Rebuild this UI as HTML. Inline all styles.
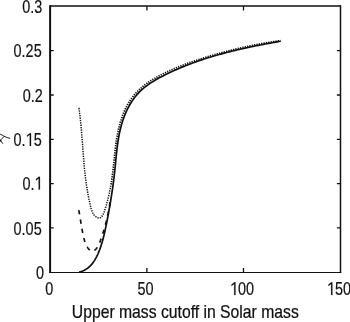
<!DOCTYPE html>
<html><head><meta charset="utf-8"><style>
html,body{margin:0;padding:0;background:#fff;width:350px;height:322px;overflow:hidden}
svg{display:block;filter:grayscale(1) blur(0.3px)}
text{font-family:"Liberation Sans",sans-serif;fill:#111;stroke:#111;stroke-width:0.2px}
</style></head><body>
<svg width="350" height="322" viewBox="0 0 350 322">
<g fill="none" stroke="#111" stroke-linecap="butt">
<path d="M50.1,6.0 H340.5" stroke-width="1.6"/>
<path d="M340.5,5.2 V273.1" stroke-width="1.5"/>
<path d="M49.1,272.5 H341.25" stroke-width="1.2"/>
<path d="M50.1,5.2 V273.1" stroke-width="2.0"/>
<path d="M146.9,272.5 v-4.4 M243.5,272.5 v-4.4 M146.9,6 v4.6 M243.5,6 v4.6" stroke-width="1.3"/>
<path d="M50.1,50.7 h3.6 M50.1,95 h3.6 M50.1,139.3 h3.6 M50.1,183.6 h3.6 M50.1,227.95 h3.6 M340.5,50.7 h-3.6 M340.5,95 h-3.6 M340.5,139.3 h-3.6 M340.5,183.6 h-3.6 M340.5,227.95 h-3.6" stroke-width="1.3"/>
<path d="M78.98,107.98 L79.02,108.25 L79.06,108.52 L79.09,108.79 L79.13,109.07 L79.17,109.34 L79.21,109.61 L79.24,109.88 L79.28,110.15 L79.31,110.43 L79.35,110.70 L79.39,110.97 L79.42,111.24 L79.46,111.51 L79.49,111.78 L79.53,112.06 L79.56,112.33 L79.60,112.60 L79.63,112.87 L79.66,113.14 L79.70,113.41 L79.73,113.68 L79.76,113.95 L79.80,114.23 L79.83,114.50 L79.86,114.77 L79.89,115.04 L79.92,115.31 L79.96,115.58 L79.99,115.85 L80.02,116.12 L80.05,116.39 L80.08,116.66 L80.11,116.93 L80.14,117.20 L80.17,117.47 L80.20,117.74 L80.23,118.01 L80.26,118.28 L80.29,118.55 L80.32,118.82 L80.35,119.09 L80.38,119.36 L80.41,119.63 L80.44,119.90 L80.46,120.17 L80.49,120.44 L80.52,120.71 L80.55,120.98 L80.58,121.25 L80.60,121.52 L80.63,121.79 L80.66,122.06 L80.68,122.33 L80.71,122.60 L80.74,122.87 L80.76,123.14 L80.79,123.41 L80.82,123.68 L80.84,123.95 L80.87,124.21 L80.89,124.48 L80.92,124.75 L80.95,125.02 L80.97,125.29 L81.00,125.56 L81.02,125.83 L81.05,126.10 L81.07,126.37 L81.09,126.63 L81.12,126.90 L81.14,127.17 L81.17,127.44 L81.19,127.71 L81.22,127.98 L81.24,128.24 L81.26,128.51 L81.29,128.78 L81.31,129.05 L81.33,129.32 L81.36,129.59 L81.38,129.85 L81.40,130.12 L81.42,130.39 L81.45,130.66 L81.47,130.93 L81.49,131.19 L81.51,131.46 L81.54,131.73 L81.56,132.00 L81.58,132.27 L81.60,132.53 L81.62,132.80 L81.65,133.07 L81.67,133.34 L81.69,133.60 L81.71,133.87 L81.73,134.14 L81.75,134.41 L81.78,134.67 L81.80,134.94 L81.82,135.21 L81.84,135.48 L81.86,135.74 L81.88,136.01 L81.90,136.28 L81.92,136.55 L81.94,136.81 L81.96,137.08 L81.98,137.35 L82.00,137.61 L82.03,137.88 L82.05,138.15 L82.07,138.42 L82.09,138.68 L82.11,138.95 L82.13,139.22 L82.15,139.48 L82.17,139.75 L82.19,140.02 L82.21,140.28 L82.23,140.55 L82.25,140.82 L82.27,141.09 L82.29,141.35 L82.31,141.62 L82.33,141.89 L82.35,142.15 L82.37,142.42 L82.38,142.69 L82.40,142.95 L82.42,143.22 L82.44,143.49 L82.46,143.75 L82.48,144.02 L82.50,144.29 L82.52,144.55 L82.54,144.82 L82.56,145.08 L82.58,145.35 L82.60,145.62 L82.62,145.88 L82.64,146.15 L82.66,146.42 L82.68,146.68 L82.70,146.95 L82.72,147.22 L82.74,147.48 L82.76,147.75 L82.78,148.01 L82.80,148.28 L82.82,148.55 L82.83,148.81 L82.85,149.08 L82.87,149.35 L82.89,149.61 L82.91,149.88 L82.93,150.14 L82.95,150.41 L82.97,150.68 L82.99,150.94 L83.01,151.21 L83.03,151.48 L83.05,151.74 L83.07,152.01 L83.09,152.27 L83.11,152.54 L83.13,152.81 L83.15,153.07 L83.17,153.34 L83.19,153.60 L83.21,153.87 L83.23,154.14 L83.25,154.40 L83.27,154.67 L83.30,154.93 L83.32,155.20 L83.34,155.47 L83.36,155.73 L83.38,156.00 L83.40,156.26 L83.42,156.53 L83.44,156.80 L83.46,157.06 L83.48,157.33 L83.50,157.59 L83.53,157.86 L83.55,158.13 L83.57,158.39 L83.59,158.66 L83.61,158.92 L83.63,159.19 L83.66,159.46 L83.68,159.72 L83.70,159.99 L83.72,160.25 L83.74,160.52 L83.77,160.79 L83.79,161.05 L83.81,161.32 L83.83,161.58 L83.86,161.85 L83.88,162.12 L83.90,162.38 L83.93,162.65 L83.95,162.91 L83.97,163.18 L84.00,163.45 L84.02,163.71 L84.04,163.98 L84.07,164.24 L84.09,164.51 L84.12,164.78 L84.14,165.04 L84.16,165.31 L84.19,165.57 L84.21,165.84 L84.24,166.11 L84.26,166.37 L84.29,166.64 L84.31,166.91 L84.34,167.17 L84.36,167.44 L84.39,167.70 L84.42,167.97 L84.44,168.24 L84.47,168.50 L84.49,168.77 L84.52,169.03 L84.55,169.30 L84.57,169.57 L84.60,169.83 L84.63,170.10 L84.66,170.37 L84.68,170.63 L84.71,170.90 L84.74,171.16 L84.77,171.43 L84.79,171.70 L84.82,171.96 L84.85,172.23 L84.88,172.50 L84.91,172.76 L84.94,173.03 L84.97,173.30 L85.00,173.56 L85.03,173.83 L85.06,174.10 L85.09,174.36 L85.12,174.63 L85.15,174.90 L85.18,175.16 L85.21,175.43 L85.24,175.70 L85.27,175.96 L85.30,176.23 L85.33,176.50 L85.37,176.76 L85.40,177.03 L85.43,177.30 L85.46,177.56 L85.50,177.83 L85.53,178.10 L85.56,178.36 L85.60,178.63 L85.63,178.90 L85.66,179.16 L85.70,179.43 L85.73,179.70 L85.77,179.97 L85.80,180.23 L85.84,180.50 L85.87,180.77 L85.91,181.03 L85.94,181.30 L85.98,181.57 L86.02,181.84 L86.05,182.10 L86.09,182.37 L86.13,182.64 L86.16,182.91 L86.20,183.17 L86.24,183.44 L86.28,183.71 L86.32,183.98 L86.35,184.24 L86.39,184.51 L86.43,184.78 L86.47,185.05 L86.51,185.31 L86.55,185.58 L86.59,185.85 L86.63,186.12 L86.67,186.39 L86.71,186.65 L86.76,186.92 L86.80,187.19 L86.84,187.46 L86.88,187.72 L86.92,187.99 L86.97,188.26 L87.01,188.53 L87.05,188.80 L87.10,189.07 L87.14,189.33 L87.19,189.60 L87.23,189.87 L87.28,190.14 L87.32,190.41 L87.37,190.68 L87.41,190.94 L87.46,191.21 L87.51,191.48 L87.55,191.75 L87.60,192.02 L87.65,192.29 L87.70,192.56 L87.74,192.83 L87.79,193.09 L87.84,193.36 L87.89,193.63 L87.94,193.90 L87.99,194.17 L88.04,194.44 L88.09,194.71 L88.14,194.98 L88.19,195.25 L88.25,195.52 L88.30,195.79 L88.35,196.06 L88.40,196.32 L88.46,196.59 L88.51,196.86 L88.56,197.13 L88.62,197.40 L88.67,197.67 L88.73,197.94 L88.78,198.21 L88.84,198.48 L88.89,198.75 L88.95,199.02 L89.01,199.29 L89.06,199.56 L89.12,199.83 L89.18,200.10 L89.24,200.37 L89.29,200.64 L89.35,200.91 L89.41,201.18 L89.47,201.45 L89.53,201.73 L89.59,202.00 L89.65,202.27 L89.71,202.54 L89.78,202.81 L89.84,203.08 L89.90,203.35 L89.96,203.62 L90.03,203.89 L90.09,204.16 L90.15,204.43 L90.22,204.70 L90.28,204.98 L90.35,205.25 L90.41,205.52 L90.48,205.79 L90.55,206.06 L90.61,206.33 L90.68,206.60 L90.75,206.88 L90.82,207.15 L90.89,207.42 L90.96,207.69 L91.03,207.96 L91.11,208.22 L91.18,208.49 L91.26,208.76 L91.34,209.02 L91.41,209.29 L91.50,209.55 L91.58,209.81 L91.66,210.07 L91.75,210.33 L91.84,210.58 L91.93,210.83 L92.03,211.09 L92.12,211.34 L92.22,211.58 L92.32,211.83 L92.43,212.07 L92.53,212.31 L92.64,212.55 L92.76,212.78 L92.87,213.01 L92.99,213.24 L93.12,213.46 L93.24,213.69 L93.37,213.90 L93.51,214.12 L93.65,214.33 L93.79,214.53 L93.94,214.74 L94.09,214.94 L94.24,215.13 L94.40,215.32 L94.56,215.51 L94.73,215.69 L94.90,215.87 L95.08,216.04 L95.26,216.21 L95.45,216.37 L95.64,216.53 L95.84,216.68 L96.04,216.83 L96.25,216.97 L96.46,217.11 L96.68,217.24 L96.91,217.36 L97.13,217.47 L97.36,217.58 L97.60,217.68 L97.83,217.76 L98.07,217.84 L98.30,217.90 L98.54,217.95 L98.77,217.98 L99.00,218.00 L99.23,218.01 L99.46,218.00 L99.69,217.97 L99.91,217.92 L100.12,217.85 L100.33,217.76 L100.54,217.65 L100.73,217.53 L100.93,217.39 L101.12,217.23 L101.30,217.06 L101.48,216.87 L101.66,216.68 L101.83,216.47 L101.99,216.25 L102.15,216.02 L102.31,215.78 L102.46,215.53 L102.61,215.28 L102.75,215.02 L102.89,214.75 L103.03,214.48 L103.16,214.21 L103.28,213.93 L103.41,213.66 L103.53,213.38 L103.64,213.11 L103.75,212.83 L103.86,212.56 L103.97,212.29 L104.07,212.02 L104.17,211.75 L104.27,211.48 L104.36,211.21 L104.45,210.94 L104.54,210.68 L104.63,210.41 L104.72,210.15 L104.81,209.88 L104.89,209.62 L104.98,209.36 L105.06,209.09 L105.15,208.83 L105.23,208.57 L105.31,208.31 L105.39,208.05 L105.47,207.79 L105.55,207.53 L105.63,207.27 L105.71,207.02 L105.79,206.76 L105.87,206.50 L105.94,206.25 L106.02,205.99 L106.10,205.73 L106.17,205.48 L106.25,205.22 L106.32,204.97 L106.39,204.71 L106.47,204.46 L106.54,204.20 L106.61,203.95 L106.68,203.69 L106.75,203.44 L106.82,203.18 L106.89,202.93 L106.96,202.68 L107.03,202.42 L107.10,202.17 L107.17,201.91 L107.24,201.66 L107.30,201.41 L107.37,201.15 L107.44,200.90 L107.50,200.65 L107.57,200.39 L107.63,200.14 L107.70,199.88 L107.76,199.63 L107.83,199.37 L107.89,199.12 L107.95,198.86 L108.02,198.61 L108.08,198.35 L108.14,198.09 L108.20,197.84 L108.27,197.58 L108.33,197.32 L108.39,197.07 L108.45,196.81 L108.51,196.55 L108.57,196.29 L108.63,196.03 L108.69,195.77 L108.75,195.52 L108.81,195.26 L108.87,195.00 L108.93,194.74 L108.99,194.48 L109.04,194.22 L109.10,193.95 L109.16,193.69 L109.22,193.43 L109.27,193.17 L109.33,192.91 L109.39,192.65 L109.44,192.38 L109.50,192.12 L109.55,191.86 L109.61,191.60 L109.66,191.33 L109.72,191.07 L109.77,190.81 L109.82,190.54 L109.88,190.28 L109.93,190.01 L109.98,189.75 L110.04,189.48 L110.09,189.22 L110.14,188.95 L110.19,188.69 L110.24,188.42 L110.30,188.16 L110.35,187.89 L110.40,187.63 L110.45,187.36 L110.50,187.09 L110.55,186.83 L110.60,186.56 L110.65,186.29 L110.69,186.03" stroke-width="1.5" stroke-dasharray="1.3 1.1"/>
<path d="M110.69,186.03 L110.74,185.76 L110.79,185.49 L110.84,185.23 L110.89,184.96 L110.93,184.69 L110.98,184.42 L111.03,184.16 L111.07,183.89 L111.12,183.62 L111.17,183.35 L111.21,183.08 L111.26,182.82 L111.30,182.55 L111.35,182.28 L111.39,182.01 L111.44,181.74 L111.48,181.47 L111.52,181.20 L111.57,180.94 L111.61,180.67 L111.65,180.40 L111.70,180.13 L111.74,179.86 L111.78,179.59 L111.82,179.32 L111.86,179.05 L111.90,178.78 L111.94,178.51 L111.98,178.25 L112.02,177.98 L112.06,177.71 L112.10,177.44 L112.14,177.17 L112.18,176.90 L112.22,176.63 L112.26,176.36 L112.30,176.09 L112.34,175.82 L112.37,175.55 L112.41,175.28 L112.45,175.01 L112.49,174.75 L112.52,174.48 L112.56,174.21 L112.59,173.94 L112.63,173.67 L112.66,173.40 L112.70,173.13 L112.73,172.86 L112.77,172.59 L112.80,172.32 L112.84,172.06 L112.87,171.79 L112.90,171.52 L112.94,171.25 L112.97,170.98 L113.00,170.71 L113.04,170.45 L113.07,170.18 L113.10,169.91 L113.13,169.64 L113.16,169.37 L113.19,169.11 L113.22,168.84 L113.26,168.57 L113.29,168.30 L113.32,168.04 L113.35,167.77 L113.38,167.50 L113.41,167.23 L113.44,166.97 L113.46,166.70 L113.49,166.43 L113.52,166.16 L113.55,165.90 L113.58,165.63 L113.61,165.36 L113.64,165.10 L113.67,164.83 L113.69,164.56 L113.72,164.30 L113.75,164.03 L113.78,163.76 L113.80,163.50 L113.83,163.23 L113.86,162.96 L113.89,162.70 L113.91,162.43 L113.94,162.16 L113.97,161.90 L113.99,161.63 L114.02,161.37 L114.05,161.10 L114.08,160.83 L114.10,160.57 L114.13,160.30 L114.16,160.04 L114.18,159.77 L114.21,159.50 L114.24,159.24 L114.26,158.97 L114.29,158.71 L114.32,158.44 L114.34,158.18 L114.37,157.91 L114.40,157.65 L114.42,157.38 L114.45,157.11 L114.47,156.85 L114.50,156.58 L114.53,156.32 L114.56,156.05 L114.58,155.79 L114.61,155.52 L114.64,155.26 L114.66,154.99 L114.69,154.73 L114.72,154.46 L114.74,154.20 L114.77,153.93 L114.80,153.67 L114.83,153.40 L114.85,153.14 L114.88,152.87 L114.91,152.61 L114.94,152.34 L114.97,152.08 L115.00,151.81 L115.02,151.55 L115.05,151.28 L115.08,151.02 L115.11,150.75 L115.14,150.49 L115.17,150.22 L115.20,149.96 L115.23,149.69 L115.26,149.43 L115.29,149.16 L115.32,148.90 L115.35,148.63 L115.38,148.37 L115.41,148.10 L115.44,147.84 L115.47,147.57 L115.50,147.31 L115.54,147.04 L115.57,146.78 L115.60,146.52 L115.63,146.25 L115.67,145.99 L115.70,145.72 L115.73,145.46 L115.77,145.19 L115.80,144.93 L115.83,144.66 L115.87,144.40 L115.90,144.13 L115.94,143.87 L115.98,143.60 L116.01,143.34 L116.05,143.07 L116.08,142.81 L116.12,142.54 L116.16,142.28 L116.20,142.02 L116.23,141.75 L116.27,141.49 L116.31,141.22 L116.35,140.96 L116.39,140.69 L116.43,140.43 L116.47,140.16 L116.51,139.90 L116.55,139.63 L116.59,139.37 L116.63,139.10 L116.68,138.84 L116.72,138.57 L116.76,138.31 L116.80,138.04 L116.85,137.78 L116.89,137.51 L116.94,137.25 L116.98,136.98 L117.03,136.72 L117.07,136.45 L117.12,136.19 L117.17,135.92 L117.22,135.66 L117.26,135.39 L117.31,135.12 L117.36,134.86 L117.41,134.59 L117.46,134.33 L117.51,134.06 L117.56,133.80 L117.62,133.53 L117.67,133.27 L117.72,133.00 L117.77,132.74 L117.83,132.47 L117.88,132.20 L117.94,131.94 L117.99,131.67 L118.05,131.41 L118.11,131.14 L118.16,130.88 L118.22,130.61 L118.28,130.34 L118.34,130.08 L118.40,129.81 L118.46,129.55 L118.52,129.28 L118.58,129.01 L118.64,128.75 L118.71,128.48 L118.77,128.22 L118.83,127.95 L118.90,127.69 L118.96,127.42 L119.03,127.16 L119.10,126.89 L119.16,126.63 L119.23,126.36 L119.30,126.09 L119.37,125.83 L119.44,125.56 L119.51,125.30 L119.58,125.04 L119.65,124.77 L119.72,124.51 L119.79,124.24 L119.87,123.98 L119.94,123.71 L120.02,123.45 L120.09,123.19 L120.17,122.92 L120.24,122.66 L120.32,122.40 L120.40,122.13 L120.48,121.87 L120.56,121.61 L120.64,121.35 L120.72,121.08 L120.80,120.82 L120.88,120.56 L120.96,120.30 L121.05,120.04 L121.13,119.78 L121.21,119.52 L121.30,119.26 L121.39,118.99 L121.47,118.73 L121.56,118.48 L121.65,118.22 L121.74,117.96 L121.83,117.70 L121.92,117.44 L122.01,117.18 L122.10,116.92 L122.19,116.66 L122.28,116.41 L122.38,116.15 L122.47,115.89 L122.57,115.64 L122.66,115.38 L122.76,115.12 L122.86,114.87 L122.96,114.61 L123.05,114.36 L123.15,114.11 L123.25,113.85 L123.36,113.60 L123.46,113.34 L123.56,113.09 L123.66,112.84 L123.77,112.59 L123.87,112.34 L123.98,112.08 L124.09,111.83 L124.19,111.58 L124.30,111.33 L124.41,111.08 L124.52,110.83 L124.63,110.59 L124.74,110.34 L124.85,110.09 L124.96,109.84 L125.08,109.60 L125.19,109.35 L125.31,109.10 L125.42,108.86 L125.54,108.61 L125.66,108.37 L125.78,108.13 L125.89,107.88 L126.01,107.64 L126.13,107.40 L126.26,107.16 L126.38,106.92 L126.50,106.67 L126.63,106.43 L126.75,106.20 L126.88,105.96 L127.00,105.72 L127.13,105.48 L127.26,105.24 L127.39,105.01 L127.52,104.77 L127.65,104.53 L127.78,104.30 L127.91,104.07 L128.04,103.83 L128.18,103.60 L128.31,103.37 L128.45,103.14 L128.58,102.90 L128.72,102.67 L128.86,102.44 L129.00,102.22 L129.14,101.99 L129.28,101.76 L129.42,101.53 L129.56,101.31 L129.71,101.08 L129.85,100.85 L130.00,100.63 L130.14,100.41 L130.29,100.18 L130.44,99.96 L130.59,99.74 L130.74,99.52 L130.89,99.30 L131.04,99.08 L131.19,98.86 L131.35,98.64 L131.50,98.43 L131.65,98.21 L131.81,98.00 L131.97,97.78 L132.13,97.57 L132.28,97.35 L132.44,97.14 L132.61,96.93 L132.77,96.72 L132.93,96.51 L133.09,96.30 L133.26,96.09 L133.42,95.89 L133.59,95.68 L133.76,95.47 L133.92,95.27 L134.09,95.06 L134.26,94.86 L134.43,94.66 L134.61,94.46 L134.78,94.26 L134.95,94.06 L135.13,93.86 L135.30,93.66 L135.48,93.46 L135.66,93.26 L135.84,93.07 L136.01,92.87 L136.19,92.68 L136.38,92.49 L136.56,92.29 L136.74,92.10 L136.92,91.91 L137.11,91.72 L137.29,91.53 L137.48,91.34 L137.66,91.15 L137.85,90.97 L138.04,90.78 L138.23,90.59 L138.42,90.41 L138.61,90.23 L138.80,90.04 L138.99,89.86 L139.19,89.68 L139.38,89.50 L139.58,89.32 L139.77,89.14 L139.97,88.96 L140.16,88.78 L140.36,88.60 L140.56,88.42 L140.76,88.25 L140.96,88.07 L141.16,87.90 L141.36,87.72 L141.56,87.55 L141.77,87.38 L141.97,87.21 L142.17,87.04 L142.38,86.86 L142.58,86.70 L142.79,86.53 L143.00,86.36 L143.20,86.19 L143.41,86.02 L143.62,85.86 L143.83,85.69 L144.04,85.53 L144.25,85.36 L144.46,85.20 L144.67,85.03 L144.89,84.87 L145.10,84.71 L145.31,84.55 L145.53,84.39 L145.74,84.23 L145.96,84.07 L146.17,83.91 L146.39,83.75 L146.61,83.59 L146.82,83.44 L147.04,83.28 L147.26,83.13 L147.48,82.97 L147.70,82.82 L147.92,82.66 L148.14,82.51 L148.36,82.36 L148.59,82.21 L148.81,82.05 L149.03,81.90 L149.26,81.75 L149.48,81.60 L149.70,81.46 L149.93,81.31 L150.16,81.16 L150.38,81.01 L150.61,80.86 L150.83,80.72 L151.06,80.57 L151.29,80.43 L151.52,80.28 L151.75,80.14 L151.98,80.00 L152.21,79.85 L152.44,79.71 L152.67,79.57 L152.90,79.43 L153.13,79.29 L153.36,79.15 L153.59,79.01 L153.83,78.87 L154.06,78.73 L154.29,78.59 L154.53,78.45 L154.76,78.32 L154.99,78.18 L155.23,78.04 L155.46,77.91 L155.70,77.77 L155.93,77.64 L156.17,77.50 L156.41,77.37 L156.64,77.24 L156.88,77.10 L157.12,76.97 L157.36,76.84 L157.59,76.71 L157.83,76.58 L158.07,76.45 L158.31,76.32 L158.55,76.19 L158.79,76.06 L159.03,75.93 L159.27,75.80 L159.51,75.67 L159.75,75.55 L159.99,75.42 L160.23,75.29 L160.47,75.17 L160.71,75.04 L160.95,74.92 L161.19,74.79 L161.44,74.67 L161.68,74.54 L161.92,74.42 L162.16,74.30 L162.41,74.17 L162.65,74.05 L162.89,73.93 L163.14,73.81 L163.38,73.69 L163.62,73.57 L163.87,73.45 L164.11,73.33 L164.35,73.21 L164.60,73.09 L164.84,72.97 L165.09,72.85 L165.33,72.73 L165.58,72.61 L165.82,72.49 L166.06,72.38 L166.31,72.26 L166.55,72.14 L166.80,72.03 L167.04,71.91 L167.29,71.80 L167.54,71.68 L167.78,71.57 L168.03,71.45 L168.27,71.34 L168.52,71.22 L168.76,71.11 L169.01,71.00 L169.26,70.88 L169.50,70.77 L169.75,70.66 L169.99,70.55 L170.24,70.44 L170.49,70.33 L170.73,70.21 L170.98,70.10 L171.23,69.99 L171.47,69.88 L171.72,69.77 L171.97,69.67 L172.22,69.56 L172.46,69.45 L172.71,69.34 L172.96,69.23 L173.21,69.12 L173.45,69.02 L173.70,68.91 L173.95,68.80 L174.20,68.70 L174.44,68.59 L174.69,68.48 L174.94,68.38 L175.19,68.27 L175.44,68.17 L175.69,68.06 L175.93,67.96 L176.18,67.85 L176.43,67.75 L176.68,67.65 L176.93,67.54 L177.18,67.44 L177.43,67.34 L177.68,67.23 L177.93,67.13 L178.18,67.03 L178.42,66.93 L178.67,66.83 L178.92,66.73 L179.17,66.63 L179.42,66.53 L179.67,66.43 L179.92,66.33 L180.17,66.23 L180.42,66.13 L180.67,66.03 L180.92,65.93 L181.17,65.83 L181.42,65.73 L181.67,65.63 L181.93,65.54 L182.18,65.44 L182.43,65.34 L182.68,65.24 L182.93,65.15 L183.18,65.05 L183.43,64.95 L183.68,64.86 L183.93,64.76 L184.18,64.67 L184.44,64.57 L184.69,64.48 L184.94,64.38 L185.19,64.29 L185.44,64.19 L185.69,64.10 L185.95,64.00 L186.20,63.91 L186.45,63.82 L186.70,63.72 L186.95,63.63 L187.21,63.54 L187.46,63.45 L187.71,63.35 L187.96,63.26 L188.22,63.17 L188.47,63.08 L188.72,62.99 L188.97,62.90 L189.23,62.80 L189.48,62.71 L189.73,62.62 L189.99,62.53 L190.24,62.44 L190.49,62.35 L190.75,62.26 L191.00,62.17 L191.25,62.08 L191.51,62.00 L191.76,61.91 L192.01,61.82 L192.27,61.73 L192.52,61.64 L192.77,61.55 L193.03,61.47 L193.28,61.38 L193.54,61.29 L193.79,61.20 L194.04,61.12 L194.30,61.03 L194.55,60.94 L194.81,60.86 L195.06,60.77 L195.32,60.68 L195.57,60.60 L195.83,60.51 L196.08,60.43 L196.34,60.34 L196.59,60.26 L196.84,60.17 L197.10,60.09 L197.35,60.00 L197.61,59.92 L197.87,59.83 L198.12,59.75 L198.38,59.67 L198.63,59.58 L198.89,59.50 L199.14,59.41 L199.40,59.33 L199.65,59.25 L199.91,59.16 L200.16,59.08 L200.42,59.00 L200.68,58.92 L200.93,58.83 L201.19,58.75 L201.44,58.67 L201.70,58.59 L201.96,58.51 L202.21,58.43 L202.47,58.34 L202.73,58.26 L202.98,58.18 L203.24,58.10 L203.49,58.02 L203.75,57.94 L204.01,57.86 L204.26,57.78 L204.52,57.70 L204.78,57.62 L205.03,57.54 L205.29,57.46 L205.55,57.38 L205.81,57.30 L206.06,57.22 L206.32,57.14 L206.58,57.06 L206.83,56.98 L207.09,56.90 L207.35,56.82 L207.61,56.75 L207.86,56.67 L208.12,56.59 L208.38,56.51 L208.64,56.43 L208.89,56.35 L209.15,56.28 L209.41,56.20 L209.67,56.12 L209.93,56.04 L210.18,55.97 L210.44,55.89 L210.70,55.81 L210.96,55.74 L211.22,55.66 L211.47,55.58 L211.73,55.51 L211.99,55.43 L212.25,55.36 L212.51,55.28 L212.77,55.20 L213.02,55.13 L213.28,55.05 L213.54,54.98 L213.80,54.90 L214.06,54.83 L214.32,54.75 L214.58,54.68 L214.83,54.60 L215.09,54.53 L215.35,54.46 L215.61,54.38 L215.87,54.31 L216.13,54.23 L216.39,54.16 L216.65,54.09 L216.91,54.01 L217.17,53.94 L217.43,53.87 L217.69,53.79 L217.95,53.72 L218.20,53.65 L218.46,53.58 L218.72,53.50 L218.98,53.43 L219.24,53.36 L219.50,53.29 L219.76,53.22 L220.02,53.14 L220.28,53.07 L220.54,53.00 L220.80,52.93 L221.06,52.86 L221.32,52.79 L221.58,52.72 L221.84,52.65 L222.10,52.58 L222.36,52.51 L222.62,52.44 L222.88,52.37 L223.14,52.30 L223.40,52.23 L223.67,52.16 L223.93,52.09 L224.19,52.02 L224.45,51.95 L224.71,51.88 L224.97,51.81 L225.23,51.74 L225.49,51.67 L225.75,51.61 L226.01,51.54 L226.27,51.47 L226.53,51.40 L226.79,51.33 L227.06,51.27 L227.32,51.20 L227.58,51.13 L227.84,51.06 L228.10,51.00 L228.36,50.93 L228.62,50.86 L228.88,50.80 L229.14,50.73 L229.41,50.66 L229.67,50.60 L229.93,50.53 L230.19,50.47 L230.45,50.40 L230.71,50.33 L230.98,50.27 L231.24,50.20 L231.50,50.14 L231.76,50.07 L232.02,50.01 L232.28,49.94 L232.55,49.88 L232.81,49.82 L233.07,49.75 L233.33,49.69 L233.59,49.62 L233.86,49.56 L234.12,49.50 L234.38,49.43 L234.64,49.37 L234.90,49.31 L235.17,49.24 L235.43,49.18 L235.69,49.12 L235.95,49.05 L236.22,48.99 L236.48,48.93 L236.74,48.87 L237.00,48.80 L237.27,48.74 L237.53,48.68 L237.79,48.62 L238.05,48.56 L238.32,48.50 L238.58,48.44 L238.84,48.37 L239.10,48.31 L239.37,48.25 L239.63,48.19 L239.89,48.13 L240.16,48.07 L240.42,48.01 L240.68,47.95 L240.95,47.89 L241.21,47.83 L241.47,47.77 L241.73,47.71 L242.00,47.65 L242.26,47.60 L242.52,47.54 L242.79,47.48 L243.05,47.42 L243.31,47.36 L243.58,47.30 L243.84,47.24 L244.10,47.19 L244.37,47.13 L244.63,47.07 L244.89,47.01 L245.16,46.96 L245.42,46.90 L245.69,46.84 L245.95,46.78 L246.21,46.73 L246.48,46.67 L246.74,46.61 L247.00,46.56 L247.27,46.50 L247.53,46.45 L247.79,46.39 L248.06,46.33 L248.32,46.28 L248.59,46.22 L248.85,46.17 L249.11,46.11 L249.38,46.06 L249.64,46.00 L249.91,45.95 L250.17,45.89 L250.43,45.84 L250.70,45.78 L250.96,45.73 L251.23,45.68 L251.49,45.62 L251.76,45.57 L252.02,45.52 L252.28,45.46 L252.55,45.41 L252.81,45.36 L253.08,45.30 L253.34,45.25 L253.61,45.20 L253.87,45.15 L254.13,45.09 L254.40,45.04 L254.66,44.99 L254.93,44.94 L255.19,44.89 L255.46,44.83 L255.72,44.78 L255.99,44.73 L256.25,44.68 L256.52,44.63 L256.78,44.58 L257.04,44.53 L257.31,44.48 L257.57,44.43 L257.84,44.38 L258.10,44.33 L258.37,44.28 L258.63,44.23 L258.90,44.18 L259.16,44.13 L259.43,44.08 L259.69,44.03 L259.96,43.98 L260.22,43.93 L260.49,43.88 L260.75,43.83 L261.02,43.79 L261.28,43.74 L261.55,43.69 L261.81,43.64 L262.08,43.59 L262.34,43.55 L262.61,43.50 L262.87,43.45 L263.14,43.41 L263.40,43.36 L263.67,43.31 L263.93,43.26 L264.20,43.22 L264.47,43.17 L264.73,43.13 L265.00,43.08 L265.26,43.03 L265.53,42.99 L265.79,42.94 L266.06,42.90 L266.32,42.85 L266.59,42.81 L266.85,42.76 L267.12,42.72 L267.38,42.67 L267.65,42.63 L267.92,42.58 L268.18,42.54 L268.45,42.49 L268.71,42.45 L268.98,42.41 L269.24,42.36 L269.51,42.32 L269.77,42.28 L270.04,42.23 L270.31,42.19 L270.57,42.15 L270.84,42.11 L271.10,42.06 L271.37,42.02 L271.63,41.98 L271.90,41.94 L272.17,41.89 L272.43,41.85 L272.70,41.81 L272.96,41.77 L273.23,41.73 L273.49,41.69 L273.76,41.65 L274.03,41.60 L274.29,41.56 L274.56,41.52 L274.82,41.48 L275.09,41.44 L275.35,41.40 L275.62,41.36 L275.89,41.32 L276.15,41.28 L276.42,41.24 L276.68,41.21 L276.95,41.17 L277.22,41.13 L277.48,41.09 L277.75,41.05 L278.01,41.01 L278.28,40.97 L278.55,40.93 L278.81,40.90 L279.08,40.86 L279.34,40.82 L279.61,40.78 L279.88,40.75 L280.14,40.71 L280.41,40.67" stroke-width="1.8" stroke-dasharray="1.3 1.1" stroke-dashoffset="149.654"/>
<path d="M78.82,210.23 L78.91,210.77 L79.01,211.30 L79.10,211.83 L79.19,212.36 L79.28,212.89 L79.36,213.41 L79.45,213.93 L79.54,214.45 L79.62,214.96 L79.71,215.47 L79.79,215.98 L79.88,216.49 L79.96,217.00 L80.04,217.50 L80.12,218.00 L80.21,218.50 L80.29,219.00 L80.37,219.50 L80.45,219.99 L80.53,220.48 L80.61,220.98 L80.69,221.47 L80.78,221.96 L80.86,222.45 L80.94,222.94 L81.02,223.43 L81.10,223.92 L81.19,224.41 L81.27,224.90 L81.36,225.39 L81.44,225.88 L81.53,226.38 L81.61,226.87 L81.70,227.36 L81.79,227.85 L81.87,228.35 L81.96,228.84 L82.06,229.34 L82.15,229.84 L82.24,230.34 L82.33,230.84 L82.43,231.35 L82.53,231.85 L82.63,232.36 L82.72,232.87 L82.83,233.38 L82.93,233.90 L83.03,234.42 L83.14,234.94 L83.25,235.46 L83.36,235.98 L83.48,236.50 L83.60,237.02 L83.72,237.55 L83.85,238.07 L83.98,238.59 L84.12,239.11 L84.27,239.63 L84.41,240.14 L84.57,240.66 L84.73,241.17 L84.90,241.67 L85.07,242.18 L85.25,242.67 L85.44,243.17 L85.64,243.66 L85.84,244.14 L86.06,244.62 L86.28,245.10 L86.51,245.56 L86.76,246.02 L87.01,246.47 L87.27,246.92 L87.54,247.36 L87.83,247.79 L88.12,248.20 L88.43,248.61 L88.74,249.00 L89.07,249.37 L89.40,249.72 L89.74,250.04 L90.09,250.33 L90.44,250.58 L90.80,250.80 L91.16,250.97 L91.53,251.10 L91.91,251.18 L92.28,251.21 L92.66,251.19 L93.04,251.11 L93.42,250.98 L93.80,250.80 L94.17,250.58 L94.55,250.33 L94.92,250.03 L95.28,249.70 L95.63,249.35 L95.98,248.96 L96.32,248.55 L96.65,248.12 L96.97,247.68 L97.27,247.22 L97.57,246.75 L97.85,246.26 L98.12,245.77 L98.38,245.27 L98.63,244.77 L98.87,244.26 L99.10,243.75 L99.32,243.24 L99.54,242.72 L99.75,242.21 L99.96,241.70 L100.16,241.20 L100.35,240.70 L100.55,240.20 L100.73,239.70 L100.92,239.21 L101.10,238.73 L101.28,238.24 L101.45,237.76 L101.62,237.28 L101.79,236.80 L101.95,236.33 L102.11,235.85 L102.27,235.38 L102.43,234.90 L102.58,234.43 L102.73,233.95 L102.89,233.48 L103.04,233.00 L103.18,232.52 L103.33,232.05 L103.48,231.57 L103.62,231.09 L103.77,230.60 L103.91,230.12 L104.05,229.64 L104.19,229.15 L104.33,228.66 L104.47,228.17 L104.61,227.68 L104.75,227.19 L104.88,226.70 L105.02,226.21 L105.15,225.72 L105.28,225.22 L105.41,224.73 L105.54,224.23 L105.67,223.73 L105.80,223.23 L105.93,222.74 L106.05,222.24 L106.18,221.74 L106.30,221.24 L106.42,220.73 L106.54,220.23 L106.66,219.73 L106.78,219.22 L106.90,218.72 L107.02,218.22 L107.13,217.71 L107.25,217.21 L107.36,216.70 L107.47,216.19 L107.58,215.69 L107.69,215.18 L107.80,214.67 L107.91,214.17 L108.02,213.66 L108.12,213.15 L108.23,212.65 L108.33,212.14 L108.43,211.63 L108.53,211.12 L108.63,210.62 L108.73,210.11 L108.82,209.60 L108.92,209.09 L109.01,208.59 L109.11,208.08 L109.20,207.57 L109.29,207.07 L109.38,206.56 L109.47,206.05 L109.56,205.55 L109.64,205.04 L109.73,204.54 L109.81,204.03 L109.89,203.53 L109.97,203.03 L110.05,202.52 L110.13,202.02 L110.21,201.52 L110.29,201.02 L110.36,200.52 L110.44,200.02 L110.51,199.52 L110.58,199.02" stroke-width="1.7" stroke-dasharray="4.3 5.1"/>
<path d="M79.18,272.16 L81.03,271.61 L82.78,270.95 L84.42,270.18 L85.95,269.31 L87.39,268.34 L88.74,267.29 L89.99,266.15 L91.17,264.93 L92.27,263.65 L93.29,262.30 L94.25,260.90 L95.15,259.44 L95.99,257.94 L96.79,256.40 L97.53,254.83 L98.23,253.24 L98.90,251.62 L99.54,250.00 L100.14,248.35 L100.72,246.70 L101.27,245.03 L101.79,243.35 L102.29,241.67 L102.77,239.97 L103.23,238.27 L103.66,236.56 L104.08,234.84 L104.49,233.12 L104.88,231.40 L105.26,229.67 L105.63,227.94 L105.98,226.20 L106.33,224.47 L106.68,222.74 L107.02,221.01 L107.35,219.28 L107.68,217.56 L108.01,215.83 L108.33,214.11 L108.65,212.38 L108.97,210.66 L109.27,208.94 L109.58,207.22 L109.88,205.50 L110.17,203.78 L110.46,202.06 L110.75,200.35 L111.03,198.63 L111.30,196.91 L111.57,195.19 L111.83,193.47 L112.09,191.75 L112.35,190.03 L112.59,188.31 L112.84,186.58 L113.07,184.86 L113.30,183.13 L113.53,181.41 L113.75,179.68 L113.96,177.95 L114.17,176.22 L114.37,174.48 L114.57,172.74 L114.76,171.01 L114.94,169.26 L115.12,167.52 L115.29,165.77 L115.46,164.03 L115.63,162.28 L115.80,160.53 L115.96,158.78 L116.14,157.02 L116.31,155.27 L116.49,153.52 L116.68,151.77 L116.87,150.02 L117.08,148.28 L117.29,146.53 L117.52,144.79 L117.76,143.04 L118.02,141.30 L118.29,139.57 L118.57,137.84 L118.88,136.11 L119.21,134.38 L119.56,132.66 L119.93,130.95 L120.32,129.24 L120.75,127.53 L121.19,125.84 L121.67,124.14 L122.18,122.46 L122.71,120.78 L123.28,119.11 L123.87,117.46 L124.50,115.81 L125.16,114.19 L125.85,112.57 L126.57,110.97 L127.32,109.39 L128.11,107.83 L128.93,106.30 L129.79,104.78 L130.68,103.29 L131.60,101.82 L132.56,100.38 L133.56,98.97 L134.59,97.58 L135.66,96.23 L136.76,94.91 L137.91,93.62 L139.09,92.37 L140.30,91.15 L141.56,89.97 L142.85,88.83 L144.18,87.72 L145.53,86.64 L146.92,85.59 L148.33,84.57 L149.77,83.57 L151.23,82.61 L152.72,81.67 L154.22,80.75 L155.74,79.85 L157.27,78.97 L158.82,78.12 L160.38,77.28 L161.95,76.45 L163.53,75.65 L165.11,74.85 L166.69,74.07 L168.28,73.30 L169.87,72.54 L171.47,71.79 L173.07,71.05 L174.67,70.33 L176.28,69.61 L177.88,68.91 L179.50,68.22 L181.11,67.54 L182.73,66.87 L184.35,66.21 L185.98,65.56 L187.61,64.92 L189.24,64.29 L190.87,63.67 L192.51,63.06 L194.15,62.46 L195.80,61.87 L197.44,61.29 L199.09,60.72 L200.74,60.16 L202.40,59.60 L204.06,59.06 L205.71,58.52 L207.38,58.00 L209.04,57.48 L210.71,56.96 L212.38,56.46 L214.05,55.96 L215.73,55.48 L217.40,55.00 L219.08,54.52 L220.77,54.06 L222.45,53.60 L224.14,53.15 L225.82,52.70 L227.51,52.26 L229.21,51.83 L230.90,51.41 L232.60,50.99 L234.30,50.58 L236.00,50.17 L237.70,49.77 L239.40,49.37 L241.11,48.98 L242.81,48.60 L244.52,48.22 L246.23,47.84 L247.95,47.47 L249.66,47.11 L251.37,46.75 L253.09,46.39 L254.81,46.04 L256.53,45.69 L258.25,45.35 L259.97,45.01 L261.69,44.68 L263.42,44.34 L265.14,44.02 L266.87,43.69 L268.60,43.37 L270.33,43.05 L272.06,42.73 L273.79,42.42 L275.52,42.11 L277.25,41.80 L278.99,41.49 L280.72,41.19" stroke-width="1.7"/>
</g>
<g font-size="18.5">
<text x="22.30" y="12.8" transform="translate(22.30 0) scale(0.78 1) translate(-22.30 0)">0.3</text>
<text x="13.60" y="57.5" transform="translate(13.60 0) scale(0.78 1) translate(-13.60 0)">0.25</text>
<text x="22.80" y="101.8" transform="translate(22.80 0) scale(0.78 1) translate(-22.80 0)">0.2</text>
<text x="13.60" y="146.3" transform="translate(13.60 0) scale(0.78 1) translate(-13.60 0)">0. 5</text><path d="M585,0 L585,1237 L207,1000 L207,1170 L600,1409 L768,1409 L768,0 Z" fill="#111" stroke="#111" stroke-width="0.2" vector-effect="non-scaling-stroke" transform="translate(25.634 145.9) scale(0.007046 -0.009033)"/>
<text x="22.50" y="190" transform="translate(22.50 0) scale(0.78 1) translate(-22.50 0)">0. </text><path d="M585,0 L585,1237 L207,1000 L207,1170 L600,1409 L768,1409 L768,0 Z" fill="#111" stroke="#111" stroke-width="0.2" vector-effect="non-scaling-stroke" transform="translate(34.534 189.6) scale(0.007046 -0.009033)"/>
<text x="13.60" y="235.4" transform="translate(13.60 0) scale(0.78 1) translate(-13.60 0)">0.05</text>
<text x="36.10" y="278.8" transform="translate(36.10 0) scale(0.78 1) translate(-36.10 0)">0</text>
</g>
<g font-size="18.5">
<text x="45.29" y="295.5" transform="translate(45.29 0) scale(0.78 1) translate(-45.29 0)">0</text>
<text x="137.47" y="295.5" transform="translate(137.47 0) scale(0.78 1) translate(-137.47 0)">50</text>
<text x="230.06" y="295.5" transform="translate(230.06 0) scale(0.78 1) translate(-230.06 0)"> 00</text><path d="M585,0 L585,1237 L207,1000 L207,1170 L600,1409 L768,1409 L768,0 Z" fill="#111" stroke="#111" stroke-width="0.2" vector-effect="non-scaling-stroke" transform="translate(230.062 295.1) scale(0.007046 -0.009033)"/>
<text x="326.96" y="295.5" transform="translate(326.96 0) scale(0.78 1) translate(-326.96 0)"> 50</text><path d="M585,0 L585,1237 L207,1000 L207,1170 L600,1409 L768,1409 L768,0 Z" fill="#111" stroke="#111" stroke-width="0.2" vector-effect="non-scaling-stroke" transform="translate(326.962 295.1) scale(0.007046 -0.009033)"/>
</g>
<text x="185.3" y="318" font-size="17.5" style="stroke-width:0.25px" text-anchor="middle" transform="translate(185.3 0) scale(0.9 1) translate(-185.3 0)">Upper mass cutoff in Solar mass</text>
<g fill="none" stroke="#111" stroke-linecap="round">
<path d="M-0.5,133.9 C1.5,134.5 3,135.6 4.5,136.4 C6.3,137.3 8,137.9 9.8,138.3" stroke-width="0.95"/>
<path d="M0.6,140.2 C1.3,139 2.6,137.5 4.4,136.5" stroke-width="0.9"/>
<path d="M0.8,141 L2.6,143.4" stroke-width="1.0"/>
<circle cx="0.4" cy="140.5" r="1.05" fill="#111" stroke="none"/>
</g>
</svg>
</body></html>
